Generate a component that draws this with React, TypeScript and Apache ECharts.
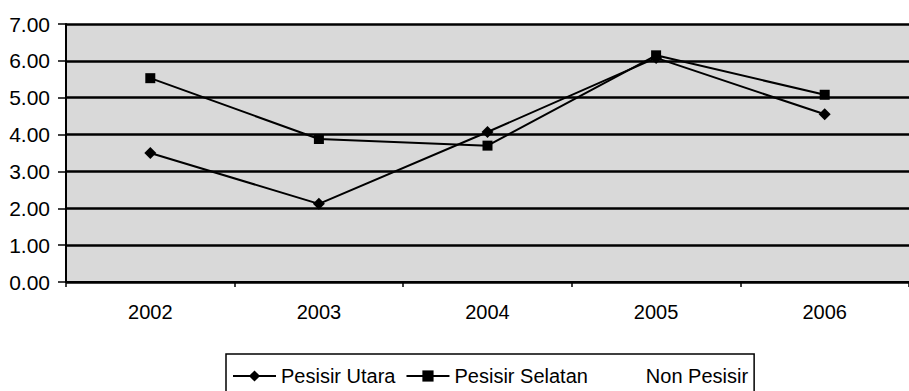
import React, { useEffect, useRef } from "react";
import * as echarts from "echarts";

const categories = ["2002", "2003", "2004", "2005", "2006"];
const pesisirUtara = [3.5, 2.12, 4.07, 6.08, 4.55];
const pesisirSelatan = [5.53, 3.88, 3.7, 6.15, 5.08];
const nonPesisir: number[] = [];
const seriesNames = ["Pesisir Utara", "Pesisir Selatan", "Non Pesisir"];

const FONT = "'Liberation Sans', Arial, sans-serif";

export default function App() {
  const ref = useRef<HTMLDivElement>(null);
  useEffect(() => {
    if (!ref.current) return;
    const chart = echarts.init(ref.current, null, { renderer: "svg" });
    chart.setOption({
      animation: false,
      backgroundColor: "#ffffff",
      textStyle: { fontFamily: FONT, color: "#000" },
      grid: {
        left: 66,
        right: -1,
        top: 24,
        bottom: 109,
        show: true,
        backgroundColor: "#d9d9d9",
        borderWidth: 0,
      },
      legend: {
        left: 226,
        top: 354,
        padding: [12, 6, 30, 6],
        borderColor: "#000",
        borderWidth: 1.5,
        itemWidth: 43,
        itemHeight: 14,
        itemGap: 10,
        textStyle: { fontFamily: FONT, fontSize: 20, color: "#000" },
        data: seriesNames,
      },
      xAxis: {
        type: "category",
        data: categories,
        boundaryGap: true,
        axisLine: { show: true, lineStyle: { color: "#000", width: 2 } },
        axisTick: { show: true, length: 5, lineStyle: { color: "#000", width: 1.5 } },
        axisLabel: { fontFamily: FONT, fontSize: 20, color: "#000", margin: 20 },
        splitLine: { show: false },
      },
      yAxis: {
        type: "value",
        min: 0,
        max: 7,
        interval: 1,
        axisLine: { show: true, lineStyle: { color: "#000", width: 2 } },
        axisTick: { show: true, length: 8, lineStyle: { color: "#000", width: 1.5 } },
        axisLabel: {
          fontFamily: FONT,
          fontSize: 21,
          color: "#000",
          margin: 16,
          formatter: (v: number) => v.toFixed(2),
        },
        splitLine: { show: true, lineStyle: { color: "#000", width: 2.5 } },
      },
      series: [
        {
          name: seriesNames[0],
          type: "line",
          data: pesisirUtara,
          symbol: "diamond",
          symbolSize: 12,
          lineStyle: { color: "#000", width: 2 },
          itemStyle: { color: "#000" },
        },
        {
          name: seriesNames[1],
          type: "line",
          data: pesisirSelatan,
          symbol: "rect",
          symbolSize: 10,
          lineStyle: { color: "#000", width: 2 },
          itemStyle: { color: "#000" },
        },
        {
          name: seriesNames[2],
          type: "line",
          data: nonPesisir,
          symbol: "none",
          lineStyle: { color: "rgba(0,0,0,0)", width: 0 },
          itemStyle: { color: "rgba(0,0,0,0)" },
        },
      ],
    });
    return () => chart.dispose();
  }, []);
  return <div ref={ref} style={{ width: 909, height: 391, position: "absolute", left: 0, top: 0 }} />;
}
